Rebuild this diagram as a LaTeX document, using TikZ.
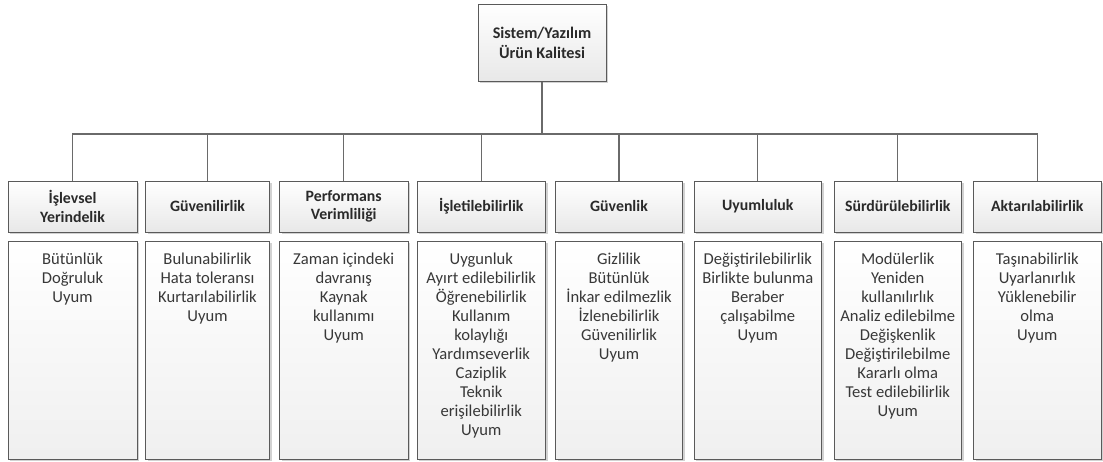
\documentclass[tikz,border=0pt]{standalone}
\usepackage{fontspec}
\setmainfont{Carlito}
\usetikzlibrary{shadows}
\definecolor{edgec}{HTML}{5A5A5A}
\definecolor{linec}{HTML}{6A6A6A}
\definecolor{txt}{HTML}{2A2A2A}
\definecolor{dtxt}{HTML}{383838}
\tikzset{
  box/.style={draw=edgec, line width=1pt, top color=white, bottom color=black!9,
    inner sep=0pt, text=txt, align=center,
    drop shadow={shadow xshift=2pt, shadow yshift=-2pt, fill=black!22, opacity=0.8}},
  headbox/.style={box, minimum height=51pt, font=\fontsize{15.8}{18.5}\selectfont\bfseries},
  topbox/.style={box, minimum width=128pt, minimum height=77pt, font=\fontsize{16.2}{20}\selectfont\bfseries},
  detbox/.style={box, top color=white, bottom color=black!6, minimum height=218pt},
  dettext/.style={anchor=north, inner sep=0pt, align=center, text=dtxt,
    font=\fontsize{16.6}{19}\selectfont},
  conn/.style={draw=linec, line width=1.1pt}
}
\begin{document}
\begin{tikzpicture}[x=1pt, y=-1pt]
\useasboundingbox (0,0) rectangle (1103,461);
% top
\node[topbox] (top) at (542,42.5) {Sistem/Yazılım\\Ürün Kalitesi};
\coordinate (bus) at (542,134);
% headers
\node[headbox, minimum width=129pt]   (h1) at (72.5,206.5)   {İşlevsel\\Yerindelik};
\node[headbox, minimum width=124pt]   (h2) at (207.5,206.5)  {Güvenilirlik};
\node[headbox, minimum width=128.5pt] (h3) at (343.75,206.5) {Performans\\Verimliliği};
\node[headbox, minimum width=128.5pt] (h4) at (481.25,206.5) {İşletilebilirlik};
\node[headbox, minimum width=127pt]   (h5) at (619,206.5)    {Güvenlik};
\node[headbox, minimum width=127.5pt] (h6) at (757.75,206.5) {Uyumluluk};
\node[headbox, minimum width=127.5pt] (h7) at (897.75,206.5) {Sürdürülebilirlik};
\node[headbox, minimum width=127.5pt] (h8) at (1037.25,206.5){Aktarılabilirlik};
% detail boxes
\node[detbox, minimum width=129pt]   (d1) at (72.5,350)   {};
\node[detbox, minimum width=124pt]   (d2) at (207.5,350)  {};
\node[detbox, minimum width=128.5pt] (d3) at (343.75,350) {};
\node[detbox, minimum width=128.5pt] (d4) at (481.25,350) {};
\node[detbox, minimum width=127pt]   (d5) at (619,350)    {};
\node[detbox, minimum width=127.5pt] (d6) at (757.75,350) {};
\node[detbox, minimum width=127.5pt] (d7) at (897.75,350) {};
\node[detbox, minimum width=127.5pt] (d8) at (1037.25,350){};
% detail texts
\node[dettext] (t1) at (72.5,250.7)   {\strut Bütünlük\\Doğruluk\\Uyum};
\node[dettext] (t2) at (207.5,250.7)  {\strut Bulunabilirlik\\Hata toleransı\\Kurtarılabilirlik\\Uyum};
\node[dettext] (t3) at (343.75,250.7) {\strut Zaman içindeki\\davranış\\Kaynak\\kullanımı\\Uyum};
\node[dettext] (t4) at (481.25,250.7) {\strut Uygunluk\\Ayırt edilebilirlik\\Öğrenebilirlik\\Kullanım\\kolaylığı\\Yardımseverlik\\Caziplik\\Teknik\\erişilebilirlik\\Uyum};
\node[dettext] (t5) at (619,250.7)    {\strut Gizlilik\\Bütünlük\\İnkar edilmezlik\\İzlenebilirlik\\Güvenilirlik\\Uyum};
\node[dettext] (t6) at (757.75,250.7) {\strut Değiştirilebilirlik\\Birlikte bulunma\\Beraber\\çalışabilme\\Uyum};
\node[dettext] (t7) at (897.75,250.7) {\strut Modülerlik\\Yeniden\\kullanılırlık\\Analiz edilebilme\\Değişkenlik\\Değiştirilebilme\\Kararlı olma\\Test edilebilirlik\\Uyum};
\node[dettext] (t8) at (1037.25,250.7){\strut Taşınabilirlik\\Uyarlanırlık\\Yüklenebilir\\olma\\Uyum};
% connectors
\draw[conn] (top.south) -- (bus);
\foreach \h in {h1,h2,h3,h4,h5,h6,h7,h8}{
  \draw[conn] (bus) -| (\h.north);
}
\end{tikzpicture}
\end{document}
